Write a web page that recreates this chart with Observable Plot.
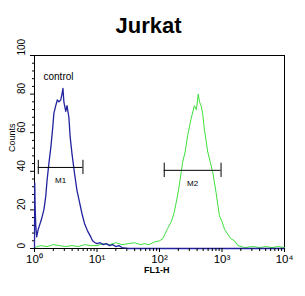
<!DOCTYPE html>
<html>
<head>
<meta charset="utf-8">
<script src="https://cdn.jsdelivr.net/npm/d3@7"></script>
<script src="https://cdn.jsdelivr.net/npm/@observablehq/plot@0.6"></script>
<style>
  html, body { margin: 0; padding: 0; background: white; }
</style>
</head>
<body>
<div id="chart"></div>
<script>
// Title and axis text
const title = "Jurkat";
const xLabel = "FL1-H";
const yLabel = "Counts";
const controlLabel = "control";

// Tick values
const xMajorTicks = [1, 10, 100, 1000, 10000];
const xTickLabels = ["10\u2070", "10\u00B9", "10\u00B2", "10\u00B3", "10\u2074"];
const yMajorTicks = [0, 20, 40, 60, 80, 100];
const yMinorTicks = [4, 8, 12, 16, 24, 28, 32, 36, 44, 48, 52, 56, 64, 68, 72, 76, 84, 88, 92, 96];

// Control histogram (blue): log10(FL1-H) and counts
const blueLog = [0.0, 0.004, 0.01, 0.02, 0.035, 0.06, 0.08, 0.11, 0.15, 0.18, 0.2, 0.23, 0.26, 0.29, 0.31, 0.34, 0.365, 0.39, 0.42, 0.44, 0.455, 0.47, 0.5, 0.52, 0.55, 0.57, 0.6, 0.64, 0.68, 0.72, 0.76, 0.8, 0.85, 0.9, 0.93, 0.97, 1.0, 1.05, 1.1, 1.15, 1.2, 1.25, 1.3, 1.35, 1.4, 1.5, 2.0, 3.0, 4.0];
const blueCount = [0, 34, 22, 12, 6, 10, 12, 15, 20, 27, 35, 44, 52, 62, 70, 74, 77, 76, 77, 80, 83, 76, 71, 74, 68, 58, 49, 39, 30, 24, 18, 13, 9, 6, 4, 3, 2.5, 3, 2, 2.5, 1.5, 2, 1, 1.5, 0.5, 0, 0, 0, 0];

// Sample histogram (green)
const greenLog = [0.0, 0.1, 0.2, 0.3, 0.4, 0.5, 0.6, 0.7, 0.8, 0.9, 1.0, 1.1, 1.2, 1.3, 1.4, 1.5, 1.6, 1.7, 1.755, 1.83, 1.915, 2.0, 2.05, 2.13, 2.19, 2.236, 2.28, 2.316, 2.37, 2.41, 2.45, 2.504, 2.557, 2.59, 2.62, 2.64, 2.665, 2.69, 2.717, 2.772, 2.81, 2.852, 2.905, 2.958, 3.0, 3.04, 3.1, 3.146, 3.2, 3.254, 3.36, 3.5, 3.6, 3.7, 3.8, 3.9, 4.0];
const greenCount = [0.5, 1.5, 1, 2, 1.5, 1, 1.5, 1, 2, 1.5, 1.5, 2.5, 2, 3, 2, 2.5, 3, 2, 2.5, 2, 3.3, 4, 5, 10.4, 14, 18.8, 26, 32.6, 44.7, 50, 58.5, 67, 74, 72, 80, 76, 74, 70, 62, 50, 45, 39.5, 29, 17, 14, 10, 7, 5, 4, 1.5, 0.5, 1, 0.5, 1, 0.5, 1, 0.5];

// Markers
const markerNames = ["M1", "M2"];
const markerLo = [1.15, 119];
const markerHi = [5.96, 966];
const markerLevel = [42, 40.5];

const blue = blueLog.map((l, i) => ({x: Math.pow(10, l), y: blueCount[i]}));
const green = greenLog.map((l, i) => ({x: Math.pow(10, l), y: greenCount[i]}));
const markers = markerNames.map((n, i) => ({name: n, lo: markerLo[i], hi: markerHi[i], level: markerLevel[i]}));

const xMinorTicks = [];
for (let e = 0; e < 4; e++) for (let m = 2; m <= 9; m++) xMinorTicks.push(m * Math.pow(10, e));

const blueColor = "#22229f";
const greenColor = "#3ee03e";
const capHalf = 3.7;

const chart = Plot.plot({
  width: 305,
  height: 296,
  marginLeft: 34,
  marginRight: 21,
  marginTop: 55,
  marginBottom: 48,
  x: {type: "log", domain: [1, 10000], axis: null},
  y: {domain: [0, 100], axis: null},
  style: {fontFamily: "'Liberation Sans', Arial, sans-serif", background: "white", color: "black"},
  marks: [
    Plot.frame({stroke: "black"}),
    Plot.line(green, {x: "x", y: "y", stroke: greenColor, strokeWidth: 1}),
    Plot.line(blue, {x: "x", y: "y", stroke: blueColor, strokeWidth: 1.3}),
    Plot.axisY({ticks: yMajorTicks, tickSize: 4, tickFormat: () => "", label: null}),
    Plot.axisY({ticks: yMinorTicks, tickSize: 2, tickFormat: () => "", label: null}),
    Plot.text(yMajorTicks, {y: d => d, text: d => String(d), frameAnchor: "left", dx: -13, rotate: -90, fontSize: 10}),
    Plot.axisX({ticks: xMajorTicks, tickSize: 4, tickPadding: 2, tickFormat: (d) => xTickLabels[xMajorTicks.indexOf(d)], fontSize: 11.5, label: null}),
    Plot.axisX({ticks: xMinorTicks, tickSize: 3, tickFormat: () => "", label: null}),
    Plot.text([xLabel], {x: 90, frameAnchor: "bottom", dy: 24, text: d => d, fontSize: 9, fontWeight: "bold"}),
    Plot.text([yLabel], {frameAnchor: "left", dx: -22, rotate: -90, text: d => d, fontSize: 9}),
    Plot.text([title], {frameAnchor: "top", dx: -11, dy: -38, text: d => d, fontSize: 22, fontWeight: "bold"}),
    Plot.text([controlLabel], {frameAnchor: "top-left", dx: 9, dy: 17, text: d => d, textAnchor: "start", fontSize: 10}),
    Plot.ruleY(markers, {y: "level", x1: "lo", x2: "hi", stroke: "black"}),
    Plot.ruleX(markers, {x: "lo", y1: d => d.level - capHalf, y2: d => d.level + capHalf, stroke: "black"}),
    Plot.ruleX(markers, {x: "hi", y1: d => d.level - capHalf, y2: d => d.level + capHalf, stroke: "black"}),
    Plot.text(markers, {x: d => Math.sqrt(d.lo * d.hi), y: "level", dy: 13, text: "name", fontSize: 8})
  ]
});
document.getElementById("chart").appendChild(chart);
</script>
</body>
</html>
